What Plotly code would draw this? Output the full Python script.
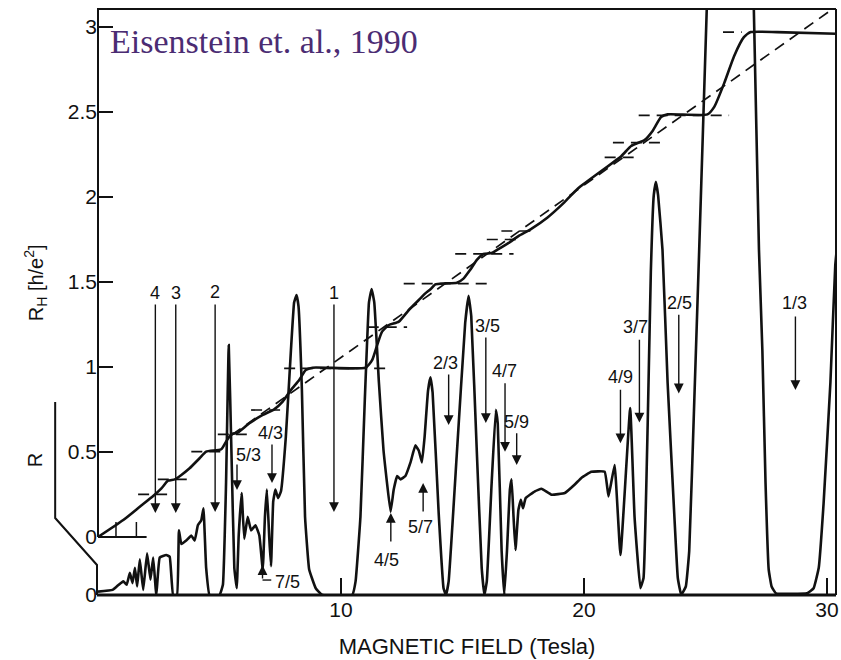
import plotly.graph_objects as go

# ---------------- data ----------------
# Hall resistance R_H [h/e^2] versus magnetic field B [T]
hall_B = [0.0, 1.04, 1.72, 2.27, 2.61, 2.88, 3.16, 3.43, 3.77, 4.18, 4.45, 5.07, 5.27, 5.48,
          5.75, 6.23, 6.78, 7.25, 7.6, 7.94, 8.28, 8.55, 8.83, 11.01, 11.28, 11.49, 11.69,
          11.97, 12.38, 12.79, 13.2, 13.47, 13.68, 13.88, 14.29, 14.77, 15.04, 15.31, 15.59,
          15.86, 16.2, 16.41, 16.9, 17.3, 17.8, 18.5, 19.2, 19.75, 21.53, 21.94, 22.49, 22.83,
          23.17, 23.44, 25.08, 25.36, 25.77, 26.18, 26.58, 26.86, 27.95, 30.37]
hall_RH = [0.0, 0.10, 0.178, 0.241, 0.286, 0.331, 0.339, 0.365, 0.404, 0.463, 0.502, 0.516,
           0.561, 0.604, 0.614, 0.669, 0.718, 0.751, 0.796, 0.865, 0.924, 0.982, 0.996, 0.996,
           1.04, 1.13, 1.208, 1.247, 1.267, 1.335, 1.394, 1.433, 1.457, 1.486, 1.492, 1.496,
           1.52, 1.57, 1.63, 1.665, 1.67, 1.688, 1.73, 1.77, 1.81, 1.88, 1.97, 2.05, 2.24, 2.30,
           2.335, 2.39, 2.47, 2.486, 2.486, 2.53, 2.67, 2.83, 2.94, 2.97, 2.97, 2.96]

# classical Hall line (dashed)
classical_B = [5.5, 30.37]
classical_RH = [0.60, 3.12]

# longitudinal resistance R (arbitrary units, same scale height as R_H)
r_B = [0.0, 0.6, 0.77, 1.04, 1.18, 1.31, 1.42, 1.52, 1.61, 1.72, 1.86, 2.02, 2.16, 2.27, 2.40,
       2.54, 2.81, 2.95, 3.09, 3.25, 3.33, 3.43, 3.63, 3.84, 3.98, 4.11, 4.25, 4.34, 4.45, 4.59,
       5.0, 5.14, 5.27, 5.38, 5.49, 5.61, 5.71, 5.79, 5.91, 6.02, 6.16, 6.30, 6.48, 6.64, 6.78,
       6.87, 6.95, 7.05, 7.12, 7.21, 7.30, 7.41, 7.53, 7.73, 7.94, 8.07, 8.17, 8.25, 8.39, 8.52,
       8.69, 8.96, 9.23, 10.46, 10.6, 10.8, 10.98, 11.15, 11.26, 11.37, 11.56, 11.75, 12.04,
       12.17, 12.31, 12.45, 12.65, 12.86, 13.06, 13.2, 13.33, 13.44, 13.58, 13.68, 13.77, 14.02,
       14.22, 14.32, 14.43, 14.77, 15.11, 15.25, 15.36, 15.59, 15.79, 15.90, 16.0, 16.2, 16.37,
       16.45, 16.61, 16.72, 16.83, 16.95, 17.02, 17.1, 17.18, 17.3, 17.4, 17.49, 17.6, 17.98,
       18.25, 18.66, 19.21, 19.62, 19.9, 20.3, 20.85, 21.01, 21.26, 21.5, 21.9, 22.08, 22.32,
       22.45, 22.62, 22.75, 22.87, 22.96, 23.05, 23.23, 23.44, 23.72, 23.86, 24.0, 24.19, 24.33,
       24.54, 24.74, 25.05, 25.5, 26.6, 26.99, 27.2, 27.34, 27.47, 27.6, 27.72, 27.9, 29.18,
       29.45, 29.66, 29.86, 30.14, 30.34, 30.45]
r_R = [0.02, 0.03, 0.05, 0.08, 0.06, 0.13, 0.07, 0.16, 0.05, 0.21, 0.03, 0.245, 0.09, 0.22, 0.0,
       0.22, 0.235, 0.225, 0.0, 0.0, 0.38, 0.30, 0.32, 0.35, 0.32, 0.41, 0.44, 0.51, 0.16, 0.0,
       0.0, 0.06, 0.66, 1.47, 0.85, 0.16, 0.04, 0.35, 0.60, 0.33, 0.46, 0.38, 0.41, 0.35, 0.15,
       0.46, 0.62, 0.33, 0.17, 0.55, 0.62, 0.57, 0.61, 0.93, 1.44, 1.72, 1.765, 1.70, 1.21, 0.46,
       0.15, 0.04, 0.0, 0.0, 0.08, 0.46, 1.15, 1.72, 1.80, 1.72, 1.25, 0.85, 0.49,
       0.62, 0.70, 0.68, 0.70, 0.78, 0.88, 0.85, 0.78, 0.93, 1.2, 1.28, 1.19, 0.48,
       0.04, 0.0, 0.08, 0.84, 1.6, 1.76, 1.64, 0.84, 0.16, 0.0, 0.08, 0.66, 1.09,
       1.01, 0.26, 0.0, 0.26, 0.62, 0.68, 0.46, 0.265, 0.50, 0.56, 0.51, 0.57, 0.61,
       0.625, 0.59, 0.60, 0.65, 0.69, 0.725, 0.725, 0.58, 0.765, 0.235, 1.10, 0.46, 0.04,
       0.10, 1.0, 1.9, 2.35, 2.43, 2.35, 2.03, 1.25, 0.46, 0.10, 0.0, 0.05, 0.26,
       1.15, 2.03, 3.44, 5.5, 5.5, 3.44, 2.03, 1.44, 0.66, 0.15, 0.05, 0.01, 0.01,
       0.04, 0.16, 0.54, 1.25, 1.94, 2.1]

# quantized plateau markers: value and field extent
plateau_val = [0.251, 0.339, 0.502, 0.604, 0.747, 0.992, 1.235, 1.49, 1.665, 1.75, 1.80,
               2.233, 2.32, 2.48, 2.97]
plateau_B0 = [1.65, 2.46, 3.84, 4.93, 6.3, 7.66, 11.1, 12.58, 14.7, 16.0, 16.6, 20.85, 21.19,
              22.25, 25.72]
plateau_B1 = [2.88, 3.85, 5.27, 6.23, 7.73, 12.0, 12.72, 16.0, 17.1, 17.3, 17.8, 22.14, 23.24,
              25.97, 26.49]

# filling-factor labels and arrows (arrow tail/tip and label position in R units)
nu_text = ['4', '3', '2', '1', '5/3', '4/3', '7/5', '4/5', '5/7', '2/3', '3/5', '4/7', '5/9',
           '4/9', '3/7', '2/5', '1/3']
arrow_B = [2.36, 3.2, 4.82, 9.71, 5.72, 7.16, 6.77, 12.05, 13.38, 14.43, 15.96, 16.75, 17.23,
           21.5, 22.28, 23.9, 28.7]
arrow_tail = [1.718, 1.718, 1.718, 1.718, 0.776, 0.894, 0.088, 0.306, 0.482, 1.306, 1.524,
              1.255, 0.96, 1.216, 1.51, 1.657, 1.647]
arrow_tip = [0.482, 0.482, 0.488, 0.488, 0.618, 0.659, 0.176, 0.482, 0.659, 1.0, 1.012,
             0.843, 0.765, 0.892, 1.014, 1.186, 1.206]
label_B = [2.34, 3.2, 4.82, 9.71, 6.2, 7.09, 7.79, 11.89, 13.27, 14.32, 16.04, 16.72, 17.23,
           21.5, 22.1, 23.92, 28.66]
label_R = [1.776, 1.776, 1.78, 1.776, 0.824, 0.955, 0.076, 0.206, 0.402, 1.363, 1.582, 1.32,
           1.02, 1.284, 1.575, 1.72, 1.72]

hall_ticks = [0, 0.5, 1, 1.5, 2, 2.5, 3]
field_ticks = [10, 20, 30]

# ---------------- layout geometry ----------------
W, H = 841, 660
L, RGT, T, BOT = 98, 839, 9, 595     # plot area in pixels
HALL0 = 537                          # pixel row of R_H = 0
PPU = 170                            # pixels per unit
B_MAX = 30.37

def px_x(p):
    return (p - L) / (RGT - L)

def px_y(p):
    return (BOT - p) / (BOT - T)

INK = '#111111'
FONT = 'Liberation Sans, Arial, sans-serif'
CURVE_W = 2.6

fig = go.Figure()

fig.add_trace(go.Scatter(x=classical_B, y=classical_RH, mode='lines',
                         line=dict(color=INK, width=1.7, dash='11px,7px'),
                         hoverinfo='skip', showlegend=False))

for v, b0, b1 in zip(plateau_val, plateau_B0, plateau_B1):
    fig.add_trace(go.Scatter(x=[b0, b1], y=[v, v], mode='lines',
                             line=dict(color=INK, width=1.7, dash='11px,7px'),
                             hoverinfo='skip', showlegend=False))

fig.add_trace(go.Scatter(x=hall_B, y=hall_RH, mode='lines',
                         line=dict(color=INK, width=CURVE_W, shape='spline', smoothing=0.5),
                         showlegend=False))

fig.add_trace(go.Scatter(x=r_B, y=r_R, mode='lines', yaxis='y2',
                         line=dict(color=INK, width=CURVE_W, shape='spline', smoothing=0.3),
                         showlegend=False))

annotations = []
for b, t0, t1 in zip(arrow_B, arrow_tail, arrow_tip):
    annotations.append(dict(x=b, y=t1, ax=b, ay=t0, xref='x', yref='y2', axref='x',
                            ayref='y2', text='', showarrow=True, arrowhead=2,
                            arrowsize=1.4, arrowwidth=1.4, arrowcolor=INK,
                            standoff=0, startstandoff=0))
for txt, b, r in zip(nu_text, label_B, label_R):
    annotations.append(dict(x=b, y=r, xref='x', yref='y2', text=txt, showarrow=False,
                            xanchor='center', yanchor='middle',
                            font=dict(family=FONT, size=18, color=INK)))

annotations.append(dict(x=px_x(108), y=px_y(42), xref='paper', yref='paper',
                        xanchor='left', yanchor='middle', showarrow=False,
                        text='Eisenstein et. al., 1990',
                        font=dict(family='Liberation Serif, Times New Roman, serif',
                                  size=34, color='#4b2c73')))
annotations.append(dict(x=px_x(35), y=px_y(283), xref='paper', yref='paper',
                        xanchor='center', yanchor='middle',
                        text='R<sub>H</sub> [h/e<sup>2</sup>]', textangle=-90,
                        showarrow=False, font=dict(family=FONT, size=20, color=INK)))
annotations.append(dict(x=px_x(35), y=px_y(460), xref='paper', yref='paper',
                        xanchor='center', yanchor='middle',
                        text='R', textangle=-90, showarrow=False,
                        font=dict(family=FONT, size=20, color=INK)))

shapes = []
lw = 2
# frame: top, right, bottom
shapes.append(dict(type='line', xref='paper', yref='paper', x0=px_x(L - 1), x1=1, y0=1, y1=1,
                   line=dict(color=INK, width=lw)))
shapes.append(dict(type='line', xref='paper', yref='paper', x0=1, x1=1, y0=0, y1=1,
                   line=dict(color=INK, width=lw)))
shapes.append(dict(type='line', xref='paper', yref='paper', x0=px_x(L - 1), x1=1, y0=0, y1=0,
                   line=dict(color=INK, width=2.8)))
# Hall axis line (top down to R_H = 0)
shapes.append(dict(type='line', xref='paper', yref='paper', x0=0, x1=0,
                   y0=px_y(HALL0), y1=1, line=dict(color=INK, width=lw)))
# Hall zero line with small ticks
shapes.append(dict(type='line', xref='x', yref='y', x0=0, x1=2.0, y0=0, y1=0,
                   line=dict(color=INK, width=lw)))
for tb in [0.74, 1.58]:
    shapes.append(dict(type='line', xref='x', yref='y', x0=tb, x1=tb, y0=0, y1=15 / PPU,
                       line=dict(color=INK, width=1.5)))
# R axis bracket
path = 'M {} {} L {} {} L {} {} L {} {}'.format(px_x(55), px_y(402), px_x(55), px_y(518),
                                                 px_x(97), px_y(565), px_x(97), px_y(595))
shapes.append(dict(type='path', xref='paper', yref='paper', path=path,
                   line=dict(color=INK, width=lw)))
# 7/5 leader
shapes.append(dict(type='line', xref='x', yref='y2', x0=arrow_B[6], x1=arrow_B[6] + 0.36,
                   y0=arrow_tail[6], y1=arrow_tail[6], line=dict(color=INK, width=1.4)))

fig.update_layout(
    width=W, height=H, autosize=False,
    margin=dict(l=L, r=W - RGT, t=T, b=H - BOT),
    paper_bgcolor='white', plot_bgcolor='white',
    font=dict(family=FONT, color=INK),
    xaxis=dict(range=[0, B_MAX], tickvals=field_ticks, ticks='inside', ticklen=17,
               tickwidth=2, tickcolor=INK, showgrid=False, zeroline=False, showline=False,
               ticklabeloverflow='allow',
               tickfont=dict(size=21, family=FONT, color=INK),
               title=dict(text='MAGNETIC FIELD (Tesla)', standoff=18,
                          font=dict(size=22, family=FONT, color=INK))),
    yaxis=dict(range=[(HALL0 - BOT) / PPU, (HALL0 - T) / PPU], tickvals=hall_ticks,
               ticktext=[str(v) for v in hall_ticks], ticks='inside', ticklen=15,
               tickwidth=2, tickcolor=INK, showgrid=False, zeroline=False, showline=False,
               tickfont=dict(size=21, family=FONT, color=INK)),
    yaxis2=dict(range=[0, (BOT - T) / PPU], overlaying='y', side='left', tickvals=[0],
                ticktext=['0'], ticks='', showgrid=False, zeroline=False, showline=False,
                tickfont=dict(size=21, family=FONT, color=INK)),
    annotations=annotations, shapes=shapes, showlegend=False,
)

fig.write_html('out.html')
